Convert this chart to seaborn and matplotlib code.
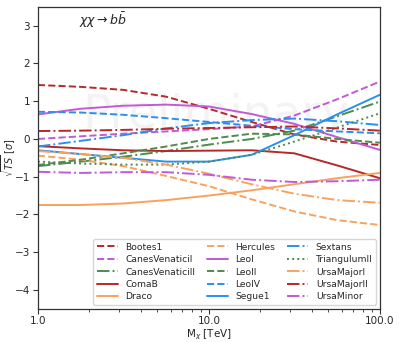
import numpy as np
import pandas as pd
import matplotlib
matplotlib.use('Agg')
import matplotlib.pyplot as plt
import seaborn as sns

# dark matter mass grid [TeV]
masses = [1.0, 1.78, 3.16, 5.62, 10.0, 17.8, 31.6, 56.2, 100.0]

# sqrt(TS) per dwarf galaxy
bootes1 = [1.43, 1.38, 1.30, 1.12, 0.80, 0.45, 0.12, -0.07, -0.16]
canes_venatici_1 = [0.00, 0.07, 0.14, 0.20, 0.26, 0.33, 0.62, 1.05, 1.52]
canes_venatici_2 = [-0.72, -0.60, -0.47, -0.32, -0.15, 0.00, 0.22, 0.60, 0.99]
coma_b = [-0.19, -0.25, -0.30, -0.32, -0.31, -0.30, -0.38, -0.70, -1.04]
draco = [-1.75, -1.75, -1.71, -1.62, -1.50, -1.36, -1.20, -1.04, -0.90]
hercules = [-0.44, -0.55, -0.72, -0.98, -1.25, -1.60, -1.92, -2.15, -2.28]
leo1 = [0.65, 0.80, 0.88, 0.91, 0.86, 0.66, 0.40, 0.05, -0.29]
leo2 = [-0.69, -0.55, -0.38, -0.20, 0.00, 0.14, 0.12, 0.00, -0.10]
leo4 = [0.72, 0.70, 0.64, 0.55, 0.45, 0.35, 0.26, 0.20, 0.15]
segue1 = [-0.30, -0.40, -0.50, -0.60, -0.60, -0.42, 0.10, 0.65, 1.17]
sextans = [-0.20, -0.05, 0.10, 0.28, 0.42, 0.50, 0.54, 0.47, 0.37]
triangulum2 = [-0.60, -0.65, -0.68, -0.68, -0.60, -0.42, -0.07, 0.30, 0.68]
ursa_major_1 = [-0.32, -0.40, -0.50, -0.68, -0.92, -1.20, -1.45, -1.62, -1.69]
ursa_major_2 = [0.21, 0.22, 0.24, 0.27, 0.29, 0.31, 0.33, 0.28, 0.22]
ursa_minor = [-0.87, -0.90, -0.88, -0.88, -0.95, -1.08, -1.14, -1.12, -1.08]

names = ['Bootes1', 'CanesVenaticiI', 'CanesVenaticiII', 'ComaB', 'Draco',
         'Hercules', 'LeoI', 'LeoII', 'LeoIV', 'Segue1',
         'Sextans', 'TriangulumII', 'UrsaMajorI', 'UrsaMajorII', 'UrsaMinor']
series = [bootes1, canes_venatici_1, canes_venatici_2, coma_b, draco,
          hercules, leo1, leo2, leo4, segue1,
          sextans, triangulum2, ursa_major_1, ursa_major_2, ursa_minor]

red = '#b8282a'
purple = '#c05ad6'
green = '#4f8a4f'
orange = '#f9a25e'
blue = '#2b8ff0'
colors = [red, purple, green, red, orange,
          orange, purple, green, blue, blue,
          blue, green, orange, red, purple]
styles = ['--', '--', '-.', '-', '-',
          '--', '-', '--', '--', '-',
          '-.', ':', '-.', '-.', '-.']

df = pd.DataFrame({
    'mass': np.tile(masses, len(names)),
    'sqrtTS': np.concatenate(series),
    'dwarf': np.repeat(names, len(masses)),
})

sns.set_style('ticks')
fig = plt.figure(figsize=(3.99, 3.42), dpi=100)
ax = fig.add_axes([0.095, 0.097, 0.857, 0.883])

# faint watermark
ax.text(0.52, 0.64, 'Preliminary', transform=ax.transAxes, fontsize=34,
        color='#f3f3f3', ha='center', va='center', zorder=0)

for name, c, ls in zip(names, colors, styles):
    sub = df[df['dwarf'] == name]
    sns.lineplot(data=sub, x='mass', y='sqrtTS', ax=ax, color=c,
                 linestyle=ls, linewidth=1.4, label=name)

ax.set_xscale('log')
ax.set_xlim(1, 100)
ax.set_ylim(-4.5, 3.5)
ax.set_xticks([1, 10, 100])
ax.set_xticklabels(['1.0', '10.0', '100.0'])
ax.set_yticks([-4, -3, -2, -1, 0, 1, 2, 3])
ax.tick_params(which='major', labelsize=7.5, color='#333333', length=3.5, pad=2)
ax.tick_params(which='minor', color='#333333', length=2)
for s in ax.spines.values():
    s.set_color('#333333')
    s.set_linewidth(0.9)

ax.set_xlabel(r'M$_{\chi}$ [TeV]', fontsize=7.5, labelpad=1)
ax.set_ylabel(r'$\sqrt{TS}$ [$\sigma$]', fontsize=7)
ax.yaxis.set_label_coords(-0.058, 0.5)

ax.text(0.12, 0.955, r'$\chi\chi\rightarrow b\bar{b}$', transform=ax.transAxes,
        fontsize=9, va='center')

ax.legend(ncol=3, loc='lower right', fontsize=6.6, frameon=True,
          handlelength=2.3, columnspacing=1.3, labelspacing=0.38,
          borderaxespad=0.4)

fig.savefig('out.png', dpi=100)
